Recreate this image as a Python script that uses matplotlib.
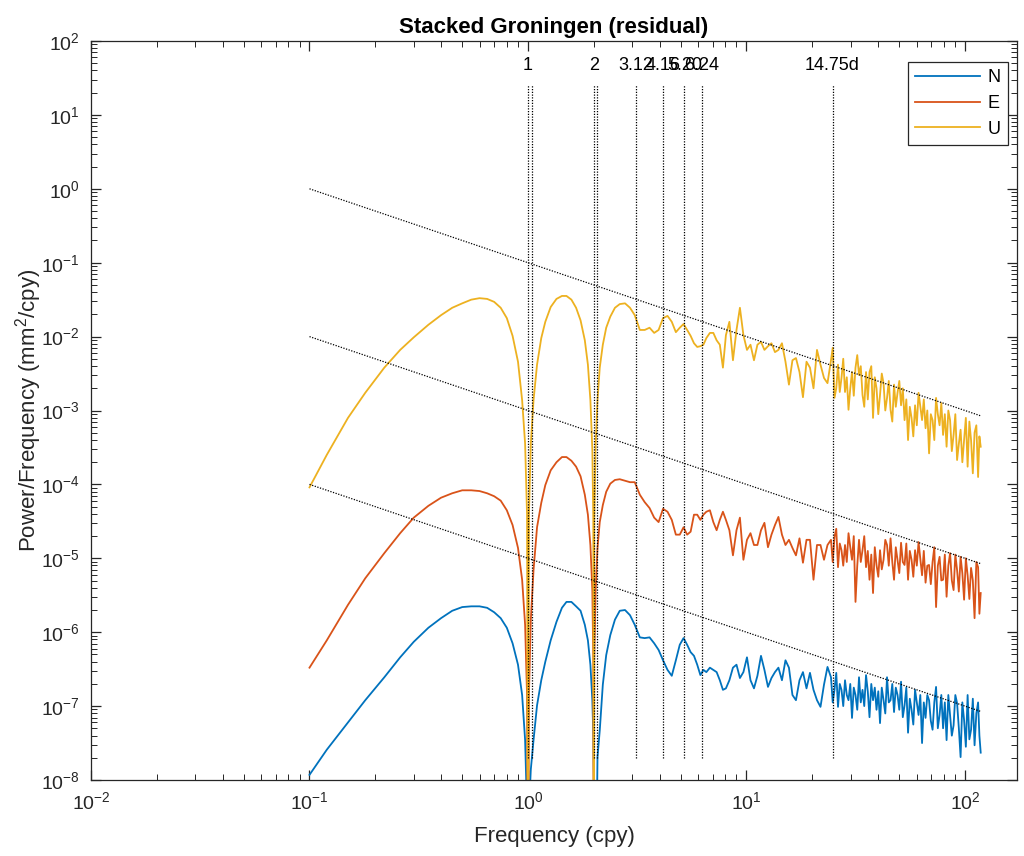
import numpy as np
import matplotlib
matplotlib.use("Agg")
import matplotlib.pyplot as plt
from matplotlib.ticker import LogLocator, NullFormatter

plt.rcParams['font.family'] = ['Liberation Sans', 'DejaVu Sans']
plt.rcParams['mathtext.fontset'] = 'custom'
plt.rcParams['mathtext.rm'] = 'Liberation Sans'
plt.rcParams['mathtext.it'] = 'Liberation Sans:italic'
plt.rcParams['mathtext.bf'] = 'Liberation Sans:bold'
plt.rcParams['axes.unicode_minus'] = False

# ---------------- data (frequency in cpy, power as log10 of mm^2/cpy) ----------------
FREQ = [0.10, 0.12, 0.15, 0.18, 0.22, 0.26, 0.30, 0.35, 0.40, 0.45, 0.50, 0.55, 0.60, 0.65,
        0.70, 0.75, 0.80, 0.85, 0.90, 0.94, 0.97, 0.99, 1.00, 1.01, 1.03, 1.06, 1.10, 1.15,
        1.20, 1.27, 1.35, 1.43, 1.50, 1.58, 1.66, 1.74, 1.82, 1.88, 1.93, 1.97, 1.99, 2.00,
        2.01, 2.04, 2.08, 2.13, 2.20, 2.28, 2.38, 2.50, 2.63, 2.78, 2.93, 3.08, 3.25, 3.42,
        3.60, 3.78, 3.96, 4.15, 4.35, 4.55, 4.75, 4.95, 5.15, 5.35, 5.55, 5.75, 5.95, 6.15,
        6.35, 6.55, 6.80, 7.05, 7.30, 7.55, 7.80,
        8.05, 8.35, 8.67, 9.0, 9.33, 9.68, 10.05, 10.43, 10.82, 11.22, 11.65, 12.08, 12.54,
        13.01, 13.5, 14.0, 14.53, 15.08, 15.64, 16.23, 16.84, 17.48, 18.13, 18.82, 19.52,
        20.26, 21.02, 21.81, 22.63, 23.48,
        24.36, 24.81, 25.28, 25.75, 26.23, 26.72, 27.21, 27.72, 28.24, 28.77, 29.3, 29.85,
        30.4, 30.97, 31.54, 32.13, 32.73, 33.34, 33.96, 34.59, 35.24, 35.9, 36.56, 37.25,
        37.94, 38.65, 39.36, 40.1, 40.84, 41.6, 42.38, 43.17, 43.97, 44.79, 45.63, 46.48,
        47.34, 48.22, 49.12, 50.04, 50.97, 51.92, 52.89, 53.88, 54.87, 55.9, 56.94, 58.0,
        59.08, 60.18, 61.3, 62.44, 63.6, 64.78, 65.99, 67.22, 68.48, 69.75, 71.05, 72.37,
        73.72, 75.1, 76.5, 77.92, 79.37, 80.85, 82.36, 83.89, 85.45, 87.04, 88.67, 90.32,
        92.0, 93.72, 95.46, 97.24, 99.05, 100.9, 102.8, 104.7, 106.6, 108.6, 110.6, 112.7,
        114.8, 116.4, 118.0]

LOG_N = [-7.93, -7.59, -7.22, -6.92, -6.61, -6.34, -6.13, -5.94, -5.81, -5.71, -5.66, -5.65,
         -5.65, -5.67, -5.73, -5.81, -5.94, -6.15, -6.44, -6.85, -7.46, -8.41, -10.0, -8.41,
         -7.86, -7.46, -6.99, -6.65, -6.40, -6.11, -5.86, -5.67, -5.59, -5.59, -5.65, -5.71,
         -5.90, -6.11, -6.44, -6.92, -7.39, -7.86, -8.27, -10.0, -7.69, -7.33, -6.71, -6.31,
         -6.04, -5.83, -5.71, -5.70, -5.77, -5.90, -6.07, -6.08, -6.07, -6.15, -6.24, -6.38,
         -6.51, -6.59, -6.38, -6.17, -6.08, -6.17, -6.27, -6.32, -6.44, -6.58, -6.51, -6.54,
         -6.48, -6.51, -6.54, -6.65, -6.78,
         -6.76, -6.65, -6.48, -6.44, -6.62, -6.54, -6.34, -6.65, -6.76, -6.59, -6.32, -6.51,
         -6.74, -6.62, -6.54, -6.48, -6.65, -6.38, -6.48, -6.85, -6.92, -6.65, -6.54, -6.76,
         -6.55, -6.78, -6.92, -7.01, -6.71, -6.47,
         -6.61, -6.95, -6.78, -6.55, -7.01, -6.70, -6.78, -7.00, -6.65, -6.85, -6.92, -6.70,
         -7.16, -6.75, -6.85, -7.05, -6.61, -6.95, -6.78, -7.00, -6.58, -6.80, -7.15, -6.70,
         -6.92, -6.75, -7.05, -6.80, -7.23, -6.75, -6.92, -7.10, -6.61, -6.95, -6.92, -6.70,
         -7.08, -6.75, -6.85, -7.05, -6.67, -7.15, -6.99, -6.75, -7.36, -6.90, -7.05, -7.25,
         -6.78, -6.95, -7.12, -6.85, -7.50, -6.95, -7.16, -6.85, -6.92, -7.20, -7.32, -6.95,
         -6.74, -7.30, -7.12, -6.85, -7.30, -6.95, -7.46, -6.85, -7.12, -7.40, -7.26, -6.85,
         -6.96, -7.30, -7.69, -6.95, -7.19, -7.55, -6.85, -7.45, -7.32, -6.90, -7.53, -7.10,
         -6.95, -7.40, -7.63]

LOG_E = [-6.48, -6.11, -5.63, -5.27, -4.93, -4.66, -4.45, -4.29, -4.18, -4.12, -4.08, -4.08,
         -4.09, -4.12, -4.16, -4.22, -4.35, -4.55, -4.86, -5.29, -5.90, -6.85, -10.0, -6.85,
         -5.83, -5.16, -4.58, -4.25, -4.01, -3.81, -3.70, -3.63, -3.63, -3.68, -3.76, -3.89,
         -4.14, -4.41, -4.82, -5.43, -6.38, -10.0, -6.38, -5.43, -4.86, -4.51, -4.28, -4.10,
         -3.99, -3.94, -3.93, -3.95, -3.97, -3.97, -4.14, -4.24, -4.32, -4.45, -4.51, -4.33,
         -4.37, -4.48, -4.68, -4.68, -4.58, -4.68, -4.64, -4.41, -4.41, -4.48, -4.41, -4.37,
         -4.35, -4.51, -4.62, -4.48, -4.37,
         -4.48, -4.62, -4.96, -4.62, -4.45, -5.02, -4.75, -4.66, -4.82, -4.82, -4.62, -4.52,
         -4.85, -4.68, -4.55, -4.44, -4.68, -4.82, -4.75, -4.86, -4.96, -4.73, -5.06, -4.75,
         -4.75, -5.29, -4.82, -4.82, -5.02, -4.82,
         -4.75, -5.05, -4.71, -4.60, -5.12, -4.80, -4.89, -5.10, -4.82, -5.05, -4.66, -4.85,
         -5.02, -4.70, -5.59, -5.10, -4.75, -5.05, -4.89, -4.70, -5.12, -4.90, -5.29, -4.95,
         -5.47, -4.85, -5.09, -5.25, -4.89, -5.15, -5.02, -4.75, -4.82, -5.10, -4.73, -5.05,
         -5.29, -4.85, -5.02, -5.20, -4.79, -5.05, -5.09, -4.80, -5.29, -4.90, -5.02, -5.25,
         -4.89, -5.10, -4.78, -5.00, -5.23, -4.90, -5.33, -5.10, -5.09, -5.35, -5.05, -4.85,
         -5.66, -5.10, -4.98, -5.30, -5.29, -4.95, -5.52, -5.10, -4.93, -5.30, -5.43, -4.95,
         -5.16, -5.45, -4.98, -5.20, -5.56, -5.00, -5.23, -5.55, -5.13, -5.30, -5.81, -5.05,
         -5.12, -5.75, -5.47]

LOG_U = [-4.04, -3.60, -3.10, -2.76, -2.42, -2.18, -2.01, -1.84, -1.71, -1.61, -1.55, -1.50,
         -1.48, -1.49, -1.53, -1.61, -1.75, -1.99, -2.34, -2.86, -3.45, -4.41, -10.0, -4.41,
         -3.45, -2.86, -2.38, -2.02, -1.80, -1.60, -1.49, -1.45, -1.45, -1.50, -1.61, -1.78,
         -2.05, -2.38, -2.86, -3.53, -4.48, -10.0, -4.48, -3.47, -2.86, -2.42, -2.11, -1.88,
         -1.73, -1.61, -1.56, -1.55, -1.61, -1.71, -1.91, -1.91, -1.88, -1.95, -1.91, -1.75,
         -1.72, -1.80, -1.94, -1.88, -1.83, -1.91, -1.99, -2.09, -2.14, -2.13, -2.11, -2.02,
         -1.95, -1.95, -2.05, -2.11, -2.42,
         -1.98, -1.80, -2.32, -1.91, -1.61, -1.98, -2.18, -2.11, -2.32, -2.11, -2.07, -2.18,
         -2.13, -2.09, -2.21, -2.18, -2.09, -2.34, -2.65, -2.32, -2.29, -2.48, -2.82, -2.34,
         -2.42, -2.70, -2.18, -2.38, -2.56, -2.63,
         -2.32, -2.15, -2.83, -2.70, -2.38, -2.75, -2.56, -2.30, -2.75, -2.55, -2.99, -2.70,
         -2.48, -2.80, -2.42, -2.25, -2.52, -2.40, -2.79, -2.95, -2.48, -2.85, -2.48, -2.40,
         -3.10, -2.55, -2.70, -3.05, -2.79, -2.50, -2.63, -3.00, -2.83, -2.60, -2.99, -3.15,
         -2.65, -2.95, -2.76, -2.60, -2.93, -2.70, -3.13, -2.85, -3.40, -2.95, -3.10, -3.35,
         -2.93, -3.20, -2.76, -2.95, -3.13, -2.85, -3.24, -3.00, -3.58, -3.05, -3.13, -3.40,
         -2.83, -3.05, -3.20, -2.90, -3.33, -3.05, -3.49, -3.00, -3.13, -3.55, -3.33, -3.05,
         -3.67, -3.45, -3.26, -3.70, -3.40, -3.10, -3.76, -3.15, -3.40, -3.85, -3.30, -3.20,
         -3.90, -3.35, -3.49]

SERIES = ["N", "E", "U"]
COLORS = ["#0072BD", "#D95319", "#EDB120"]

# reference power-law lines (slope -1)
REF_F = [0.1, 118.0]
REF_LINES = [[1.0, 8.47e-4], [1.0e-2, 8.47e-6], [1.0e-4, 8.47e-8]]

# vertical period markers
MARK_F = [1.0, 1.04, 2.0, 2.08, 3.12, 4.16, 5.20, 6.24, 24.76]
LABEL_F = [1.0, 2.0, 3.12, 4.16, 5.20, 6.24, 24.76]
LABEL_TXT = ["1", "2", "3.12", "4.16", "5.20", "6.24", "14.75d"]
MARK_Y = [2e-8, 25.0]
LABEL_Y = 47.0

# ---------------- plot ----------------
assert len(FREQ) == len(LOG_N) == len(LOG_E) == len(LOG_U), \
    (len(FREQ), len(LOG_N), len(LOG_E), len(LOG_U))

fig = plt.figure(figsize=(10.24, 8.56), dpi=100)
ax = fig.add_axes([91 / 1024, 1 - 780 / 856, (1017 - 91) / 1024, (780 - 41) / 856])

for name, vals, col in zip(SERIES, [LOG_N, LOG_E, LOG_U], COLORS):
    ax.plot(FREQ, 10.0 ** np.array(vals), color=col, lw=1.3, label=name)

for ys in REF_LINES:
    ax.plot(REF_F, ys, color="black", ls=(0, (1, 1.2)), lw=0.9)

for f in MARK_F:
    ax.plot([f, f], MARK_Y, color="black", ls=(0, (1, 1.2)), lw=0.9)

for f, t in zip(LABEL_F, LABEL_TXT):
    ax.text(f, LABEL_Y, t, ha="center", va="center", fontsize=13, color="black")

ax.set_xscale("log")
ax.set_yscale("log")
ax.set_xlim(1e-2, 10 ** 2.238)
ax.set_ylim(1e-8, 1e2)

ax.xaxis.set_major_locator(LogLocator(base=10, numticks=20))
ax.yaxis.set_major_locator(LogLocator(base=10, numticks=20))
ax.xaxis.set_minor_locator(LogLocator(base=10, subs=np.arange(2, 10), numticks=100))
ax.yaxis.set_minor_locator(LogLocator(base=10, subs=np.arange(2, 10), numticks=100))
ax.xaxis.set_minor_formatter(NullFormatter())
ax.yaxis.set_minor_formatter(NullFormatter())

axc = "#262626"
ax.tick_params(which="both", direction="in", top=True, right=True, colors=axc,
               labelcolor=axc)
ax.tick_params(which="major", length=7, width=0.9, labelsize=14, pad=8)
ax.tick_params(which="minor", length=4, width=0.7)
for s in ax.spines.values():
    s.set_color(axc)
    s.set_linewidth(0.9)

ax.set_xlabel("Frequency (cpy)", fontsize=16, color=axc, labelpad=9)
ax.set_ylabel("Power/Frequency (mm$^2$/cpy)", fontsize=16, color=axc, labelpad=-2)
ax.set_title("Stacked Groningen (residual)", fontsize=16, fontweight="bold",
             color="black", pad=6)

leg = ax.legend(loc="upper right", bbox_to_anchor=(0.990, 0.9716), borderaxespad=0,
                fancybox=False, framealpha=1, edgecolor=axc, fontsize=13,
                handlelength=3.6, handletextpad=0.4, labelspacing=0.48,
                borderpad=0.4)
leg.get_frame().set_linewidth(0.9)

fig.savefig("out.png", dpi=100)
